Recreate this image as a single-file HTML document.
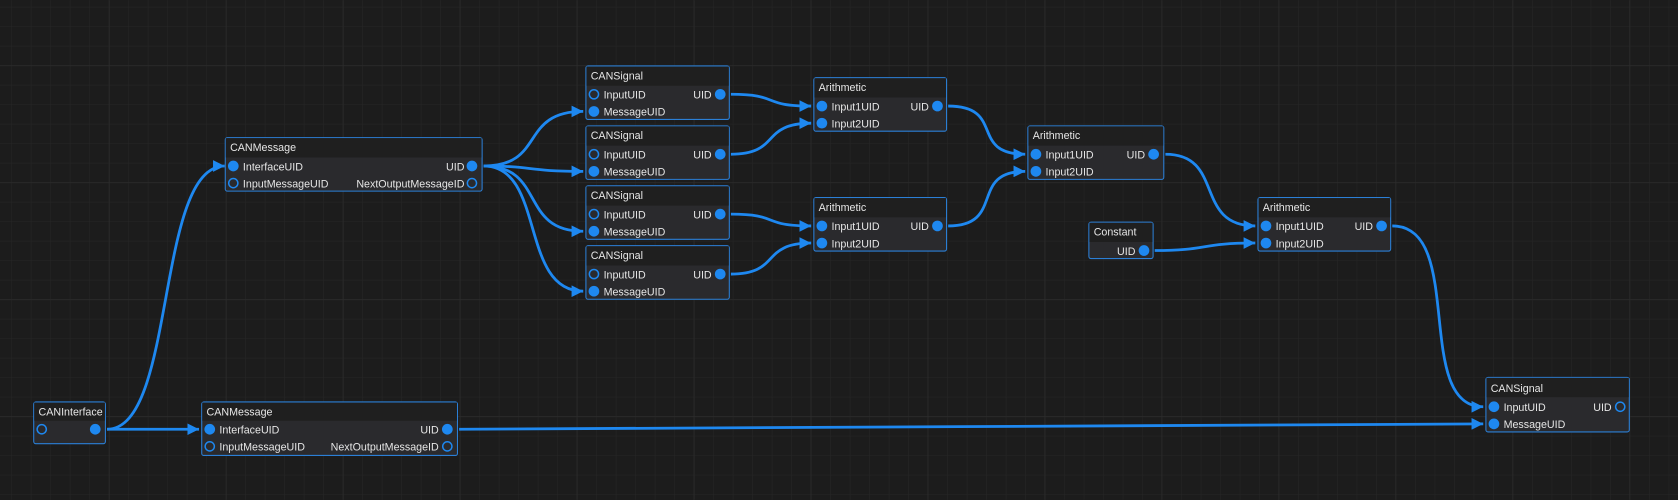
<!DOCTYPE html>
<html><head><meta charset="utf-8"><style>
html,body{margin:0;padding:0;background:#1e1e1e;overflow:hidden}
svg{display:block}
text{font-family:"Liberation Sans",sans-serif;font-size:10px;fill:#e6e6e6}
</style></head><body>
<svg width="1678" height="500" viewBox="0 0 1568 467" xmlns="http://www.w3.org/2000/svg">
<defs>
<pattern id="minor" width="18.22" height="18.22" patternUnits="userSpaceOnUse" x="101.7" y="6.3">
<path d="M0 0H18.22M0 0V18.22" stroke="#262626" stroke-width="1" fill="none"/>
</pattern>
<pattern id="major" width="109.3" height="109.3" patternUnits="userSpaceOnUse" x="101.7" y="61">
<path d="M0 0H109.3M0 0V109.3" stroke="#2d2d2d" stroke-width="1.2" fill="none"/>
</pattern>
<marker id="ar" viewBox="0 0 10 10" refX="10" refY="5" markerWidth="4.2" markerHeight="4.2" orient="auto" markerUnits="strokeWidth">
<path d="M0 0L10 5L0 10z" fill="#1e88f0"/>
</marker>
</defs>
<rect width="1568" height="467" fill="#1c1c1c"/>
<rect width="1568" height="467" fill="url(#minor)"/>
<rect width="1568" height="467" fill="url(#major)"/>

<g fill="none" stroke="#1e88f0" stroke-width="2.6" marker-end="url(#ar)">
<path d="M100 401C165 401 145 155 210 155"/>
<path d="M100 401C140 401 150 401 186 401"/>
<path d="M452 155C510 155 485 104 545 104"/>
<path d="M452 155C500 155 490 160 545 160"/>
<path d="M452 155C510 155 485 216 545 216"/>
<path d="M452 155C510 155 485 272 545 272"/>
<path d="M683 88C730 88 710 99 758 99"/>
<path d="M683 144C730 144 710 115 758 115"/>
<path d="M683 200C730 200 710 211 758 211"/>
<path d="M683 256C730 256 710 227 758 227"/>
<path d="M886 99C940 99 905 144 958 144"/>
<path d="M886 211C940 211 905 160 958 160"/>
<path d="M1089 144C1145 144 1115 211 1173 211"/>
<path d="M1079 234C1130 234 1120 227 1173 227"/>
<path d="M1301 211C1370 211 1320 380 1386 380"/>
<path d="M429 401C900 401 900 396 1386 396"/>
</g>

<g stroke="#2b7fd6" stroke-width="1">
<rect x="210.5" y="128.5" width="240" height="50" rx="2" fill="#2a2a2d"/>
<rect x="211" y="129" width="239" height="18" fill="#1f1f1f" stroke="none"/>
<rect x="547.5" y="61.5" width="134" height="50" rx="2" fill="#2a2a2d"/>
<rect x="548" y="62" width="133" height="18" fill="#1f1f1f" stroke="none"/>
<rect x="547.5" y="117.5" width="134" height="50" rx="2" fill="#2a2a2d"/>
<rect x="548" y="118" width="133" height="18" fill="#1f1f1f" stroke="none"/>
<rect x="547.5" y="173.5" width="134" height="50" rx="2" fill="#2a2a2d"/>
<rect x="548" y="174" width="133" height="18" fill="#1f1f1f" stroke="none"/>
<rect x="547.5" y="229.5" width="134" height="50" rx="2" fill="#2a2a2d"/>
<rect x="548" y="230" width="133" height="18" fill="#1f1f1f" stroke="none"/>
<rect x="760.5" y="72.5" width="124" height="50" rx="2" fill="#2a2a2d"/>
<rect x="761" y="73" width="123" height="18" fill="#1f1f1f" stroke="none"/>
<rect x="760.5" y="184.5" width="124" height="50" rx="2" fill="#2a2a2d"/>
<rect x="761" y="185" width="123" height="18" fill="#1f1f1f" stroke="none"/>
<rect x="960.5" y="117.5" width="127" height="50" rx="2" fill="#2a2a2d"/>
<rect x="961" y="118" width="126" height="18" fill="#1f1f1f" stroke="none"/>
<rect x="1017.5" y="207.5" width="60" height="34" rx="2" fill="#2a2a2d"/>
<rect x="1018" y="208" width="59" height="18" fill="#1f1f1f" stroke="none"/>
<rect x="1175.5" y="184.5" width="124" height="50" rx="2" fill="#2a2a2d"/>
<rect x="1176" y="185" width="123" height="18" fill="#1f1f1f" stroke="none"/>
<rect x="1388.5" y="352.5" width="134" height="51" rx="2" fill="#2a2a2d"/>
<rect x="1389" y="353" width="133" height="18" fill="#1f1f1f" stroke="none"/>
<rect x="31.5" y="375.5" width="67" height="39" rx="2" fill="#2a2a2d"/>
<rect x="32" y="376" width="66" height="17" fill="#1f1f1f" stroke="none"/>
<rect x="188.5" y="375.5" width="239" height="50" rx="2" fill="#2a2a2d"/>
<rect x="189" y="376" width="238" height="17" fill="#1f1f1f" stroke="none"/>
</g>

<g fill="#1e88f0">
<circle cx="218" cy="155" r="5"/><circle cx="441" cy="155" r="5"/>
<circle cx="555" cy="104" r="5"/><circle cx="673" cy="88" r="5"/>
<circle cx="555" cy="160" r="5"/><circle cx="673" cy="144" r="5"/>
<circle cx="555" cy="216" r="5"/><circle cx="673" cy="200" r="5"/>
<circle cx="555" cy="272" r="5"/><circle cx="673" cy="256" r="5"/>
<circle cx="768" cy="99" r="5"/><circle cx="768" cy="115" r="5"/><circle cx="876" cy="99" r="5"/>
<circle cx="768" cy="211" r="5"/><circle cx="768" cy="227" r="5"/><circle cx="876" cy="211" r="5"/>
<circle cx="968" cy="144" r="5"/><circle cx="968" cy="160" r="5"/><circle cx="1078" cy="144" r="5"/>
<circle cx="1069" cy="234" r="5"/>
<circle cx="1183" cy="211" r="5"/><circle cx="1183" cy="227" r="5"/><circle cx="1291" cy="211" r="5"/>
<circle cx="1396" cy="380" r="5"/><circle cx="1396" cy="396" r="5"/>
<circle cx="89" cy="401" r="5"/>
<circle cx="196" cy="401" r="5"/><circle cx="418" cy="401" r="5"/>
</g>
<g fill="none" stroke="#1e88f0" stroke-width="1.4">
<circle cx="218" cy="171" r="4.3"/><circle cx="441" cy="171" r="4.3"/>
<circle cx="555" cy="88" r="4.3"/><circle cx="555" cy="144" r="4.3"/>
<circle cx="555" cy="200" r="4.3"/><circle cx="555" cy="256" r="4.3"/>
<circle cx="1514" cy="380" r="4.3"/>
<circle cx="39" cy="401" r="4.3"/>
<circle cx="196" cy="417" r="4.3"/><circle cx="418" cy="417" r="4.3"/>
</g>

<g>
<text x="215" y="141">CANMessage</text>
<text x="227" y="159">InterfaceUID</text><text x="434" y="159" text-anchor="end">UID</text>
<text x="227" y="175">InputMessageUID</text><text x="434" y="175" text-anchor="end">NextOutputMessageID</text>

<text x="552" y="74">CANSignal</text>
<text x="564" y="92">InputUID</text><text x="665" y="92" text-anchor="end">UID</text>
<text x="564" y="108">MessageUID</text>
<text x="552" y="130">CANSignal</text>
<text x="564" y="148">InputUID</text><text x="665" y="148" text-anchor="end">UID</text>
<text x="564" y="164">MessageUID</text>
<text x="552" y="186">CANSignal</text>
<text x="564" y="204">InputUID</text><text x="665" y="204" text-anchor="end">UID</text>
<text x="564" y="220">MessageUID</text>
<text x="552" y="242">CANSignal</text>
<text x="564" y="260">InputUID</text><text x="665" y="260" text-anchor="end">UID</text>
<text x="564" y="276">MessageUID</text>

<text x="765" y="85">Arithmetic</text>
<text x="777" y="103">Input1UID</text><text x="868" y="103" text-anchor="end">UID</text>
<text x="777" y="119">Input2UID</text>
<text x="765" y="197">Arithmetic</text>
<text x="777" y="215">Input1UID</text><text x="868" y="215" text-anchor="end">UID</text>
<text x="777" y="231">Input2UID</text>

<text x="965" y="130">Arithmetic</text>
<text x="977" y="148">Input1UID</text><text x="1070" y="148" text-anchor="end">UID</text>
<text x="977" y="164">Input2UID</text>

<text x="1022" y="220">Constant</text>
<text x="1061" y="238" text-anchor="end">UID</text>

<text x="1180" y="197">Arithmetic</text>
<text x="1192" y="215">Input1UID</text><text x="1283" y="215" text-anchor="end">UID</text>
<text x="1192" y="231">Input2UID</text>

<text x="1393" y="366">CANSignal</text>
<text x="1405" y="384">InputUID</text><text x="1506" y="384" text-anchor="end">UID</text>
<text x="1405" y="400">MessageUID</text>

<text x="36" y="388">CANInterface</text>

<text x="193" y="388">CANMessage</text>
<text x="205" y="405">InterfaceUID</text><text x="410" y="405" text-anchor="end">UID</text>
<text x="205" y="421">InputMessageUID</text><text x="410" y="421" text-anchor="end">NextOutputMessageID</text>
</g>
</svg>
</body></html>
